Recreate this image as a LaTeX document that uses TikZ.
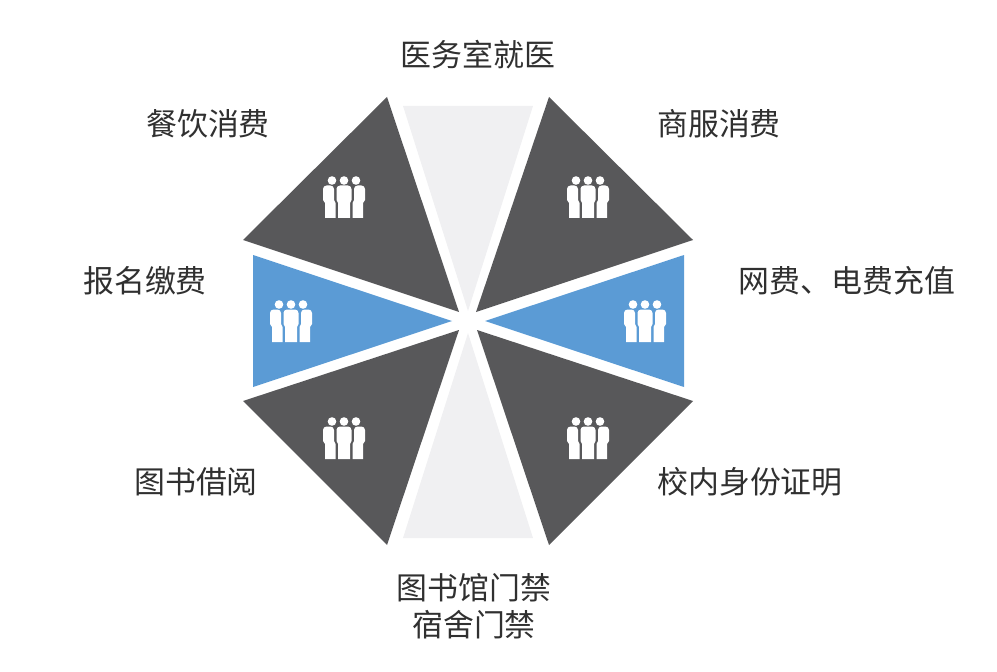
\documentclass[tikz,border=0pt]{standalone}
\usepackage{fontspec}
\newfontfamily\cjk{Noto Sans CJK SC}
\definecolor{darkwedge}{HTML}{58585A}
\definecolor{bluewedge}{HTML}{5B9BD5}
\definecolor{lightwedge}{HTML}{F0F0F2}
\definecolor{labelcolor}{HTML}{303030}
\tikzset{
  label/.style={text=labelcolor,inner sep=0pt,align=center,font=\cjk\fontsize{17.6}{21}\selectfont},
  people/.pic={
    \fill[white] (-12,-16.5) circle (4.3);
    \fill[white] (0,-16.5) circle (4.3);
    \fill[white] (12,-16.5) circle (4.3);
    \fill[white] (-6,21) -- (-6,6) -- (-7.5,3) -- (-7.5,-9) [rounded corners=2] -- (-7.5,-11.5) -- (7.5,-11.5) [sharp corners] -- (7.5,3) -- (6,6) -- (6,21) -- cycle;
    \fill[white] (-19,21) -- (-19,6) -- (-21,3) -- (-21,-7) [rounded corners=2] -- (-21,-11.5) -- (-10,-11.5) [sharp corners] -- (-10,3) -- (-8.5,6) -- (-8.5,21) -- cycle;
    \fill[white] (19,21) -- (19,6) -- (21,3) -- (21,-7) [rounded corners=2] -- (21,-11.5) -- (10,-11.5) [sharp corners] -- (10,3) -- (8.5,6) -- (8.5,21) -- cycle;
  }
}
\begin{document}
\begin{tikzpicture}[x=0.02cm,y=-0.02cm]
  \useasboundingbox (0,0) rectangle (997,672);
  % wedges
  \fill[lightwedge] (403,106) -- (533,106) -- (468,311) -- cycle;
  \fill[lightwedge] (403,538) -- (533,538) -- (468,333) -- cycle;
  \fill[darkwedge] (387,97) -- (243,240) -- (459,312) -- cycle;
  \fill[darkwedge] (549,97) -- (693,240) -- (476,312) -- cycle;
  \fill[darkwedge] (243,401) -- (387,545) -- (459,330) -- cycle;
  \fill[darkwedge] (693,401) -- (549,545) -- (477,330) -- cycle;
  \fill[bluewedge] (253,255) -- (253,387) -- (452,321) -- cycle;
  \fill[bluewedge] (684,255) -- (684,387) -- (485,321) -- cycle;
  % icons
  \pic at (344,197) {people};
  \pic at (588,197) {people};
  \pic at (291,321) {people};
  \pic at (645,321) {people};
  \pic at (344,438) {people};
  \pic at (588,438) {people};
  % labels
  \node[label] (clinic) at (478,55) {医务室就医};
  \node[label] (dining) at (208,124) {餐饮消费};
  \node[label] (shop) at (719,124) {商服消费};
  \node[label] (fees) at (145,281) {报名缴费};
  \node[label] (topup) at (847,281) {网费、电费充值};
  \node[label] (borrow) at (196,482) {图书借阅};
  \node[label] (idcard) at (750,482) {校内身份证明};
  \node[label] (library) at (474,588) {图书馆门禁};
  \node[label] (dorm) at (474,625) {宿舍门禁};
\end{tikzpicture}
\end{document}
